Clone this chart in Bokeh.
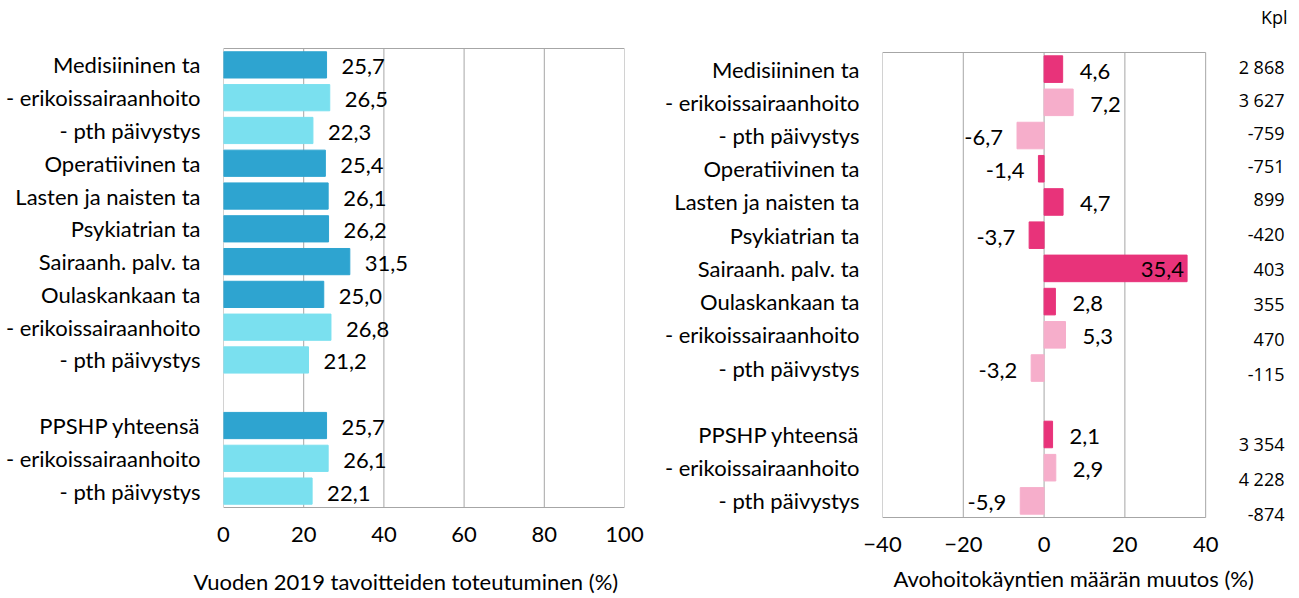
from bokeh.plotting import figure
from bokeh.layouts import row
from bokeh.models import ColumnDataSource, FixedTicker, Range1d, Title
from bokeh.core.properties import value
from bokeh.embed import file_html
from bokeh.resources import INLINE

categories = ["Medisiininen ta", "- erikoissairaanhoito", "- pth päivystys",
              "Operatiivinen ta", "Lasten ja naisten ta", "Psykiatrian ta",
              "Sairaanh. palv. ta", "Oulaskankaan ta", "- erikoissairaanhoito",
              "- pth päivystys", "PPSHP yhteensä", "- erikoissairaanhoito",
              "- pth päivystys"]
slots = [0, 1, 2, 3, 4, 5, 6, 7, 8, 9, 11, 12, 13]
is_sub = [False, True, True, False, False, False, False, False, True, True, False, True, True]
realization = [25.7, 26.5, 22.3, 25.4, 26.1, 26.2, 31.5, 25.0, 26.8, 21.2, 25.7, 26.1, 22.1]
change = [4.6, 7.2, -6.7, -1.4, 4.7, -3.7, 35.4, 2.8, 5.3, -3.2, 2.1, 2.9, -5.9]
kpl = ["2 868", "3 627", "-759", "-751", "899", "-420", "403", "355", "470",
       "-115", "3 354", "4 228", "-874"]
left_ticks = [0, 20, 40, 60, 80, 100]
right_ticks = [-40, -20, 0, 20, 40]

FONT = "Lato"
FS = "22px"
KFONT = "Open Sans"
KFS = "18px"
GRID = "#a6a6a6"
FRAME_H = 528          # shared frame height (frames are aligned in a row)
BOTTOM = 70
BOX_TOP, BOX_BOT = -0.5, 13.5


def fmt(v):
    return f"{v:.1f}".replace(".", ",")


def base_fig(fw, xr, yr, ticks, left, right, tick_standoff):
    p = figure(frame_width=fw, frame_height=FRAME_H, output_backend="svg",
               toolbar_location=None, x_range=Range1d(*xr), y_range=Range1d(*yr),
               min_border_left=left, min_border_right=right,
               min_border_top=0, min_border_bottom=BOTTOM)
    p.title.visible = False
    p.outline_line_color = None
    p.background_fill_color = "white"
    p.border_fill_color = "white"
    p.xaxis.ticker = FixedTicker(ticks=ticks)
    p.xaxis.axis_line_color = None
    p.xaxis.major_tick_line_color = None
    p.xaxis.minor_tick_line_color = None
    p.xaxis.major_label_text_font = FONT
    p.xaxis.major_label_text_font_size = FS
    p.xaxis.major_label_text_color = "#000000"
    p.xaxis.major_label_standoff = tick_standoff
    p.yaxis.ticker = FixedTicker(ticks=slots)
    p.yaxis.major_label_overrides = {s: c for s, c in zip(slots, categories)}
    p.yaxis.axis_line_color = None
    p.yaxis.major_tick_line_color = None
    p.yaxis.minor_tick_line_color = None
    p.yaxis.major_label_text_font = FONT
    p.yaxis.major_label_text_font_size = FS
    p.yaxis.major_label_text_color = "#000000"
    p.yaxis.major_label_standoff = 17
    p.grid.grid_line_color = None
    # plot box and vertical gridlines, drawn from the tick values
    inner = ticks[1:-1]
    p.segment(x0=inner, x1=inner, y0=[BOX_TOP] * len(inner), y1=[BOX_BOT] * len(inner),
              line_color=GRID, line_width=1)
    p.quad(left=[ticks[0]], right=[ticks[-1]], top=[BOX_TOP], bottom=[BOX_BOT],
           fill_color=None, line_color=GRID, line_width=1)
    return p


# Left panel: box from 48 px to 507 px (32.79 px per slot)
left_slot_px = 459 / 14
l_top = BOX_TOP - 48 / left_slot_px
p1 = base_fig(401, (0, 100), (l_top + FRAME_H / left_slot_px, l_top), left_ticks, 223, 26, -8)
src1 = ColumnDataSource(dict(
    y=slots, v=realization,
    color=["#7ae0ef" if s else "#2ea4d0" for s in is_sub],
    lab=[fmt(v) for v in realization],
))
p1.hbar(y="y", right="v", left=0, height=0.8, color="color", source=src1)
p1.text(x="v", y="y", text="lab", source=src1, x_offset=15, y_offset=2,
        text_align="left", text_baseline="middle",
        text_font=value(FONT), text_font_size=FS, text_color="#000000")
p1.add_layout(Title(text="Vuoden 2019 tavoitteiden toteutuminen (%)", align="left",
                    offset=-30, standoff=42, text_font=FONT, text_font_size=FS,
                    text_font_style="normal", text_color="#000000"), "below")

# Right panel: box from 52 px to 517 px (33.21 px per slot);
# the x range extends past +40 to hold the Kpl column
right_slot_px = 465 / 14
r_top = BOX_TOP - 52 / right_slot_px
KX = 61
p2 = base_fig(408, (-40, KX), (r_top + FRAME_H / right_slot_px, r_top), right_ticks, 232, 0, 2)
pos_lab, neg_lab, ins_lab = [], [], []
for v in change:
    if v > 30:
        ins_lab.append(fmt(v)); pos_lab.append(""); neg_lab.append("")
    elif v >= 0:
        pos_lab.append(fmt(v)); neg_lab.append(""); ins_lab.append("")
    else:
        neg_lab.append(fmt(v)); pos_lab.append(""); ins_lab.append("")
src2 = ColumnDataSource(dict(
    y=slots, v=change,
    color=["#f6aecb" if s else "#e8337a" for s in is_sub],
    pos=pos_lab, neg=neg_lab, ins=ins_lab,
    kpl=kpl, kx=[KX] * len(slots),
    koff=[max(0, s - 4) * 1.7 - 2 for s in slots],
))
p2.hbar(y="y", right="v", left=0, height=0.8, color="color", source=src2)
p2.text(x="v", y="y", text="pos", source=src2, x_offset=17, y_offset=2,
        text_align="left", text_baseline="middle",
        text_font=value(FONT), text_font_size=FS, text_color="#000000")
p2.text(x="v", y="y", text="neg", source=src2, x_offset=-14, y_offset=2,
        text_align="right", text_baseline="middle",
        text_font=value(FONT), text_font_size=FS, text_color="#000000")
p2.text(x="v", y="y", text="ins", source=src2, x_offset=-3, y_offset=1,
        text_align="right", text_baseline="middle",
        text_font=value(FONT), text_font_size=FS, text_color="#000000")
p2.text(x="kx", y="y", text="kpl", source=src2, x_offset=-6, y_offset="koff",
        text_align="right", text_baseline="middle",
        text_font=value(KFONT), text_font_size=KFS, text_color="#000000")
p2.text(x=[KX], y=[BOX_TOP], text=["Kpl"], x_offset=-3, y_offset=-36,
        text_align="right", text_baseline="middle",
        text_font=value(KFONT), text_font_size=KFS, text_color="#000000")
p2.add_layout(Title(text="Avohoitokäyntien määrän muutos (%)", align="left",
                    offset=11, standoff=17, text_font=FONT, text_font_size=FS,
                    text_font_style="normal", text_color="#000000"), "below")

layout = row(p1, p2, spacing=0)
open("out.html", "w").write(file_html(layout, INLINE))
